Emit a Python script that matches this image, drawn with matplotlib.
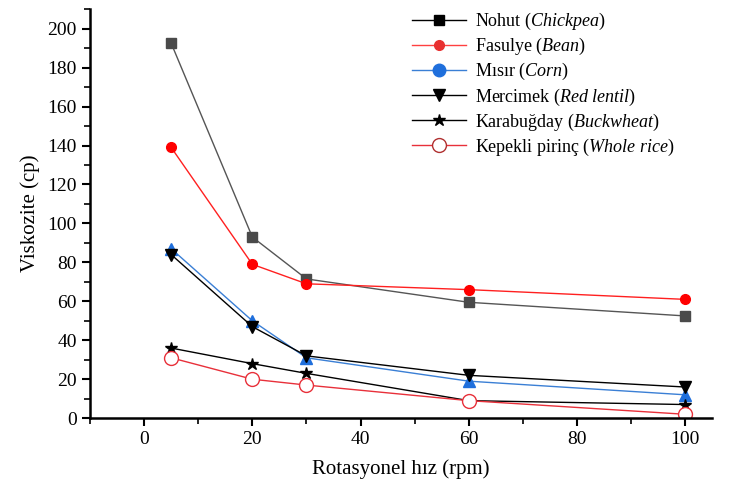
import numpy as np
import matplotlib
matplotlib.use("Agg")
import matplotlib.pyplot as plt
from matplotlib.lines import Line2D
from matplotlib.ticker import MultipleLocator

plt.rcParams['font.family'] = ['Liberation Serif', 'DejaVu Serif']
plt.rcParams['mathtext.fontset'] = 'custom'
plt.rcParams['mathtext.rm'] = 'Liberation Serif'
plt.rcParams['mathtext.it'] = 'Liberation Serif:italic'

rpm = [5, 20, 30, 60, 100]
nohut = [192.5, 93, 71.5, 59.5, 52.5]
fasulye = [139, 79, 69, 66, 61]
misir = [87, 50, 31, 19, 12]
mercimek = [84, 47, 32, 22, 16]
karabugday = [36, 28, 23, 9, 7]
kepekli = [31, 20, 17, 9, 2]

labels = [r'Nohut ($\mathit{Chickpea}$)',
          r'Fasulye ($\mathit{Bean}$)',
          r'Mısır ($\mathit{Corn}$)',
          r'Mercimek ($\mathit{Red\ lentil}$)',
          r'Karabuğday ($\mathit{Buckwheat}$)',
          r'Kepekli pirinç ($\mathit{Whole\ rice}$)']

fig = plt.figure(figsize=(7.32, 4.84), dpi=100)
ax = fig.add_axes([0.123, 0.136, 0.85, 0.845])

ax.plot(rpm, nohut, color='#555555', lw=1, marker='s', ms=7, mfc='#4a4a4a', mec='#4a4a4a')
ax.plot(rpm, fasulye, color='#ff2020', lw=1, marker='o', ms=7, mfc='red', mec='red')
ax.plot(rpm, misir, color='#3a7fd5', lw=1, marker='^', ms=8, mfc='#1f6fdc', mec='#1f6fdc')
ax.plot(rpm, mercimek, color='black', lw=1, marker='v', ms=8, mfc='black', mec='black')
ax.plot(rpm, karabugday, color='black', lw=1, marker='*', ms=9, mfc='black', mec='black')
ax.plot(rpm, kepekli, color='#e8303a', lw=1, marker='o', ms=10, mfc='white', mec='#e8303a')

handles = [
    Line2D([], [], color='black', lw=1, marker='s', ms=7, mfc='black', mec='black'),
    Line2D([], [], color='#ff4040', lw=1, marker='o', ms=7, mfc='#e83030', mec='#e83030'),
    Line2D([], [], color='#3a7fd5', lw=1, marker='o', ms=9, mfc='#1f6fdc', mec='#1f6fdc'),
    Line2D([], [], color='black', lw=1, marker='v', ms=9, mfc='black', mec='black'),
    Line2D([], [], color='black', lw=1, marker='*', ms=9, mfc='black', mec='black'),
    Line2D([], [], color='#e8303a', lw=1, marker='o', ms=10, mfc='white', mec='#b03030'),
]
ax.legend(handles, labels, loc='upper right', bbox_to_anchor=(0.965, 1.035), frameon=False,
          fontsize=13, handlelength=3, labelspacing=0.22, handletextpad=0.5)

ax.set_xlim(-10, 105)
ax.set_ylim(0, 210)
ax.xaxis.set_major_locator(MultipleLocator(20))
ax.xaxis.set_minor_locator(MultipleLocator(10))
ax.yaxis.set_major_locator(MultipleLocator(20))
ax.yaxis.set_minor_locator(MultipleLocator(10))
ax.spines['top'].set_visible(False)
ax.spines['right'].set_visible(False)
ax.spines['left'].set_linewidth(1.8)
ax.spines['bottom'].set_linewidth(1.8)
ax.tick_params(which='major', direction='out', length=6, width=1.5, labelsize=14)
ax.tick_params(which='minor', direction='out', length=4, width=1.2)

ax.set_xlabel('Rotasyonel hız (rpm)', fontsize=15, labelpad=8)
ax.set_ylabel('Viskozite (cp)', fontsize=15, labelpad=5)

fig.savefig('out.png', dpi=100)
